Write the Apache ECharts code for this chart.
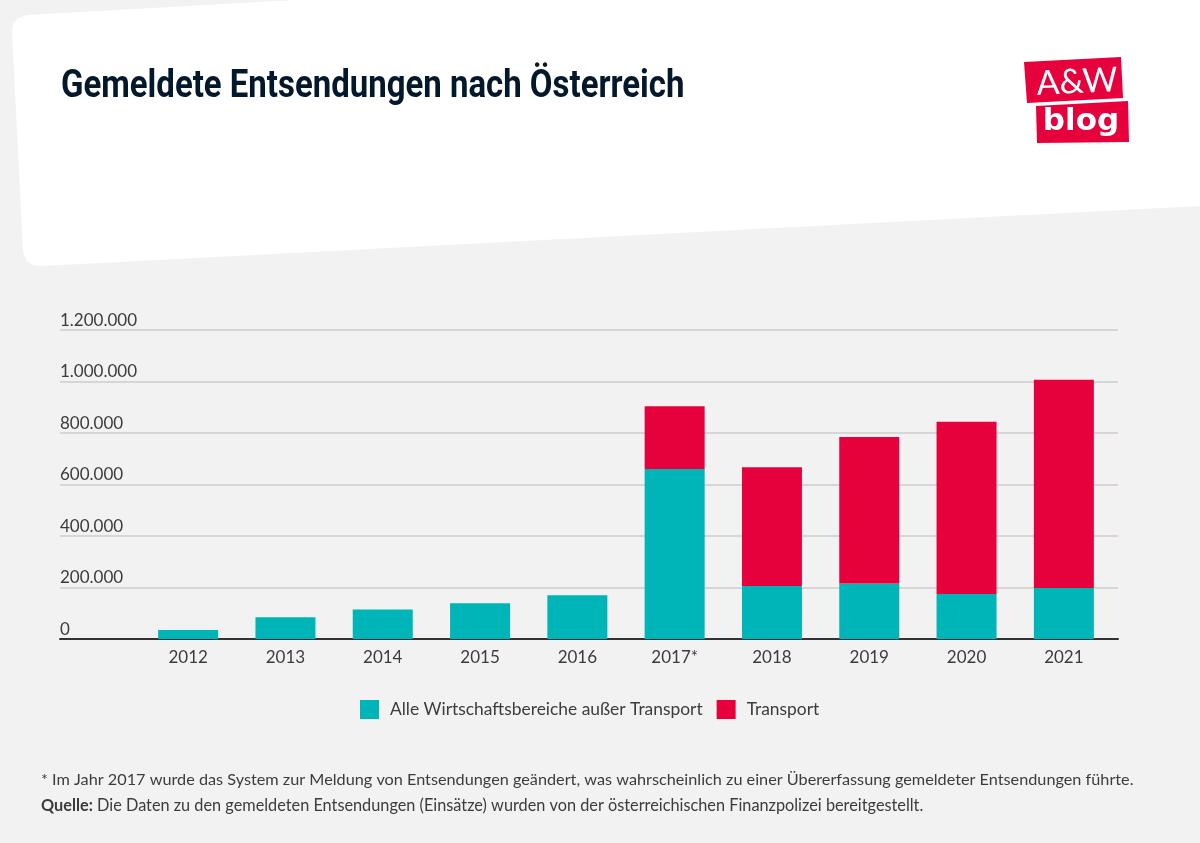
<!DOCTYPE html>
<html>
<head>
<meta charset="utf-8">
<title>Gemeldete Entsendungen nach Österreich</title>
<script src="https://cdn.jsdelivr.net/npm/echarts@6/dist/echarts.min.js"></script>
<style>
  html, body { margin: 0; padding: 0; background: #f2f2f2; }
  #main { width: 1200px; height: 843px; }
</style>
</head>
<body>
<div id="main"></div>
<script>
var years = ["2012", "2013", "2014", "2015", "2016", "2017*", "2018", "2019", "2020", "2021"];
var otherSectors = [35000, 84000, 115000, 139000, 170000, 660000, 206000, 216000, 175000, 198000];
var transport = [null, null, null, null, null, 244000, 461000, 568000, 669000, 809000];
var yTicks = ["0", "200.000", "400.000", "600.000", "800.000", "1.000.000", "1.200.000"];

var font = "Lato";
var textColor = "#3c3c3c";

var chartDom = document.getElementById("main");
var myChart = echarts.init(chartDom, null, { renderer: "canvas" });

var option = {
  backgroundColor: "#f2f2f2",
  animation: false,
  textStyle: { fontFamily: font },
  title: [
    {
      text: "* Im Jahr 2017 wurde das System zur Meldung von Entsendungen geändert, was wahrscheinlich zu einer Übererfassung gemeldeter Entsendungen führte.",
      left: 41,
      top: 772,
      padding: 0,
      textStyle: { fontFamily: font, fontSize: 16.25, fontWeight: "normal", color: textColor },
    },
    {
      text: "{b|Quelle:} Die Daten zu den gemeldeten Entsendungen (Einsätze) wurden von der österreichischen Finanzpolizei bereitgestellt.",
      left: 41,
      top: 798,
      padding: 0,
      textStyle: {
        fontFamily: font,
        fontSize: 16.3,
        fontWeight: "normal",
        color: textColor,
        rich: {
          b: { fontFamily: font, fontSize: 16.3, fontWeight: "bold", color: textColor },
        },
      },
    },
  ],
  legend: {
    left: 360,
    top: 700,
    padding: 0,
    itemWidth: 19,
    itemHeight: 19,
    itemGap: 14,
    icon: "rect",
    textStyle: { fontFamily: font, fontSize: 17.4, color: textColor, padding: [0, 0, 0, 6] },
    data: ["Alle Wirtschaftsbereiche außer Transport", "Transport"],
  },
  grid: [
    // full width grid carries the gridlines and the y labels
    { left: 60, right: 82, top: 330, height: 309 },
    // narrower grid carries the bars, the first year starts right of the labels
    { left: 139.5, right: 87.5, top: 330, height: 309 },
  ],
  xAxis: [
    {
      type: "category",
      gridIndex: 0,
      data: [""],
      axisTick: { show: false },
      axisLabel: { show: false },
      axisLine: { lineStyle: { color: "#333333", width: 2 } },
    },
    {
      type: "category",
      gridIndex: 1,
      data: years,
      axisTick: { show: false },
      axisLine: { show: false },
      axisLabel: { fontFamily: font, fontSize: 17, color: textColor, margin: 10 },
    },
  ],
  yAxis: [
    {
      type: "value",
      gridIndex: 0,
      min: 0,
      max: 1200000,
      interval: 200000,
      axisLine: { show: false },
      axisTick: { show: false },
      splitLine: { lineStyle: { color: "#cccccc", width: 1.5 } },
      axisLabel: {
        inside: true,
        margin: 0,
        verticalAlign: "bottom",
        padding: [0, 0, 1, 0],
        fontFamily: font,
        fontSize: 17,
        color: textColor,
        formatter: function (value) {
          return yTicks[value / 200000];
        },
      },
    },
    {
      type: "value",
      gridIndex: 1,
      min: 0,
      max: 1200000,
      interval: 200000,
      show: false,
    },
  ],
  series: [
    {
      name: "Alle Wirtschaftsbereiche außer Transport",
      type: "bar",
      stack: "total",
      xAxisIndex: 1,
      yAxisIndex: 1,
      barWidth: 60,
      itemStyle: { color: "#00b5b8" },
      data: otherSectors,
    },
    {
      name: "Transport",
      type: "bar",
      stack: "total",
      xAxisIndex: 1,
      yAxisIndex: 1,
      barWidth: 60,
      itemStyle: { color: "#e6003c" },
      data: transport,
    },
  ],
  graphic: [
    // white tilted card behind the title
    {
      type: "polygon",
      z: -10,
      silent: true,
      shape: {
        points: [
          [12, 32], [13, 24], [18, 18], [27, 15], [295, 0], [1200, 0], [1200, 206],
          [42, 266], [33, 265], [27, 261], [24, 255], [23, 250],
        ],
      },
      style: { fill: "#ffffff" },
    },
    // title is squeezed because no narrow font is installed
    {
      type: "text",
      z: 6,
      silent: true,
      x: 61,
      y: 87,
      scaleX: 0.845,
      style: {
        text: "Gemeldete Entsendungen nach Österreich",
        fill: "#03182b",
        fontFamily: "Roboto",
        fontSize: 39,
        fontWeight: "bold",
        align: "left",
        verticalAlign: "middle",
      },
    },
    {
      type: "polygon",
      z: 5,
      silent: true,
      shape: { points: [[1024, 62], [1121, 57], [1123, 98], [1027, 103]] },
      style: { fill: "#e6003c" },
    },
    {
      type: "polygon",
      z: 5,
      silent: true,
      shape: { points: [[1036, 106], [1128, 101], [1129, 142], [1037, 143]] },
      style: { fill: "#e6003c" },
    },
    {
      type: "text",
      z: 6,
      silent: true,
      x: 1077,
      y: 82,
      rotation: 0.05,
      style: {
        text: "A&W",
        fill: "#ffffff",
        fontFamily: font,
        fontSize: 34,
        fontWeight: "normal",
        align: "center",
        verticalAlign: "middle",
      },
    },
    {
      type: "text",
      z: 6,
      silent: true,
      x: 1081,
      y: 122,
      style: {
        text: "blog",
        fill: "#ffffff",
        fontFamily: "DejaVu Sans",
        fontSize: 31,
        fontWeight: "bold",
        align: "center",
        verticalAlign: "middle",
      },
    },
  ],
};

option && myChart.setOption(option);
</script>
</body>
</html>
